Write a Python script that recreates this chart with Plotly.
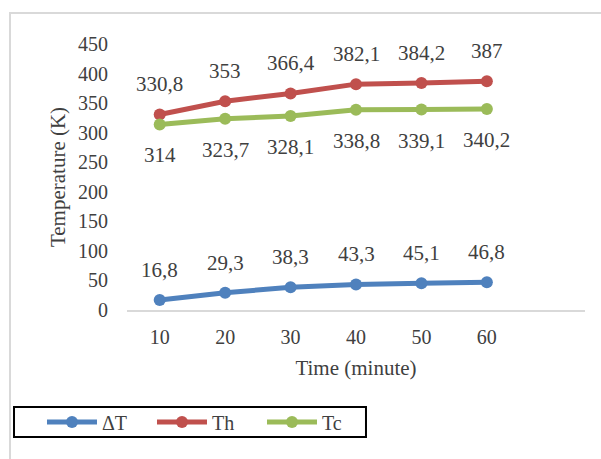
import plotly.graph_objects as go

# Measurement times (minutes) and temperatures (K)
time_min = [10, 20, 30, 40, 50, 60]
delta_t = [16.8, 29.3, 38.3, 43.3, 45.1, 46.8]
t_hot = [330.8, 353, 366.4, 382.1, 384.2, 387]
t_cold = [314, 323.7, 328.1, 338.8, 339.1, 340.2]

y_ticks = [0, 50, 100, 150, 200, 250, 300, 350, 400, 450]

BLUE = "#4F81BD"
RED = "#C0504D"
GREEN = "#9BBB59"
FONT = "Liberation Serif, Times New Roman, serif"
TXT = "#404040"


def fmt(v):
    return f"{v:g}".replace(".", ",")


series = [
    ("\u0394T", delta_t, BLUE, -30),
    ("Th", t_hot, RED, -30),
    ("Tc", t_cold, GREEN, 31),
]

fig = go.Figure()
annotations = []
for name, vals, color, shift in series:
    fig.add_trace(go.Scatter(
        x=time_min, y=vals, name=name, mode="lines+markers",
        line=dict(color=color, width=5),
        marker=dict(color=color, size=12),
    ))
    for x, v in zip(time_min, vals):
        annotations.append(dict(
            x=x, y=v, xref="x", yref="y", text=fmt(v), showarrow=False,
            yshift=-shift, font=dict(family=FONT, size=21, color=TXT),
        ))

shapes = [
    # outer chart frame
    dict(type="rect", xref="paper", yref="paper",
         x0=-0.2555, x1=1.2, y0=-0.6, y1=1.1165,
         line=dict(color="#D9D9D9", width=2), layer="below"),
    # legend box
    dict(type="rect", xref="paper", yref="paper",
         x0=-0.2467, x1=0.5218, y0=-0.4774, y1=-0.3647,
         line=dict(color="black", width=2), layer="below"),
]

fig.update_layout(
    width=601, height=459,
    margin=dict(l=127, r=16, t=44, b=149),
    paper_bgcolor="white", plot_bgcolor="white",
    font=dict(family=FONT, size=20, color=TXT),
    showlegend=True,
    legend=dict(
        orientation="h", x=-0.1856, y=-0.421, xanchor="left", yanchor="middle",
        borderwidth=0, bgcolor="rgba(0,0,0,0)",
        font=dict(family=FONT, size=20, color=TXT),
        entrywidth=45, entrywidthmode="pixels", itemwidth=50,
    ),
    annotations=annotations,
    shapes=shapes,
    xaxis=dict(
        range=[5, 75], tickvals=time_min, ticktext=[str(t) for t in time_min],
        showgrid=False, zeroline=False, showline=True, linecolor="#D9D9D9",
        linewidth=2, ticks="outside", ticklen=8, tickcolor="rgba(0,0,0,0)",
        tickfont=dict(size=20),
        title=dict(text="Time (minute)", font=dict(size=21), standoff=13),
    ),
    yaxis=dict(
        range=[0, 450], tickvals=y_ticks, showgrid=False, zeroline=False,
        showline=False, ticks="outside", ticklen=14, tickcolor="rgba(0,0,0,0)",
        tickfont=dict(size=20),
        title=dict(text="Temperature (K)", font=dict(size=21), standoff=6),
    ),
)

fig.write_html("out.html")
